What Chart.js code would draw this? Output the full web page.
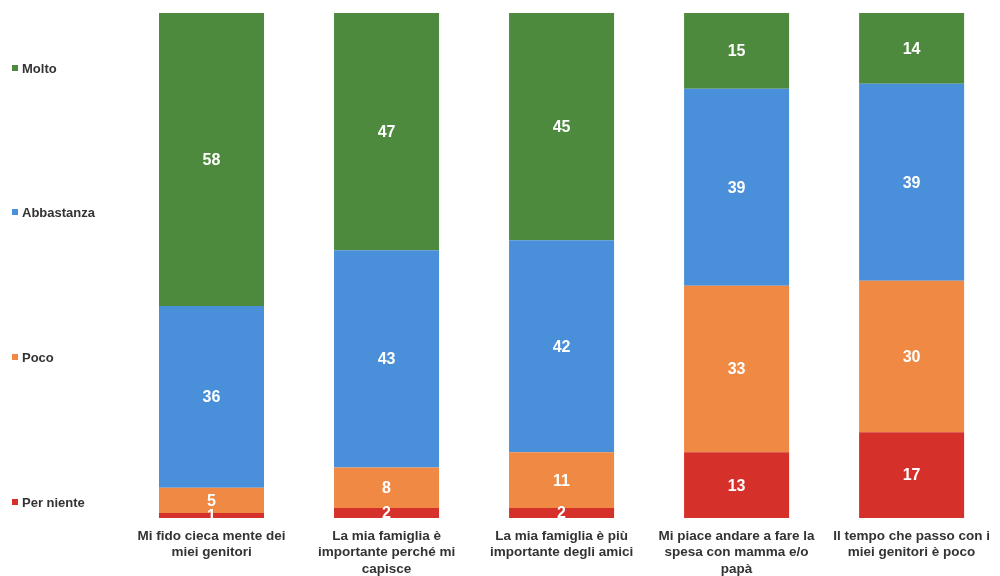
<!DOCTYPE html>
<html><head><meta charset="utf-8">
<script src="https://cdn.jsdelivr.net/npm/chart.js@4"></script>
<style>html,body{margin:0;padding:0;background:#fff;}#wrap{width:1000px;height:576px;position:relative;}</style>
</head><body><div id="wrap"><canvas id="c"></canvas></div>
<script>
const categories = [
  ["Mi fido cieca mente dei", "miei genitori"],
  ["La mia famiglia è", "importante perché mi", "capisce"],
  ["La mia famiglia è più", "importante degli amici"],
  ["Mi piace andare a fare la", "spesa con mamma e/o", "papà"],
  ["Il tempo che passo con i", "miei genitori è poco"]
];
const seriesNames = ["Per niente", "Poco", "Abbastanza", "Molto"];
const perNiente = [1, 2, 2, 13, 17];
const poco = [5, 8, 11, 33, 30];
const abbastanza = [36, 43, 42, 39, 39];
const molto = [58, 47, 45, 15, 14];
const colors = ["#D5302A", "#F08944", "#4A8FDA", "#4E8A3E"];

const legendY = {"Molto": 68, "Abbastanza": 212, "Poco": 357, "Per niente": 502};

const labelPlugin = {
  id: 'labels',
  afterDatasetsDraw(chart) {
    const ctx = chart.ctx;
    ctx.save();
    ctx.font = 'bold 16px "Liberation Sans", Arial, sans-serif';
    ctx.fillStyle = '#ffffff';
    ctx.textAlign = 'center';
    ctx.textBaseline = 'middle';
    chart.data.datasets.forEach((ds, i) => {
      const meta = chart.getDatasetMeta(i);
      meta.data.forEach((bar, j) => {
        const y = (bar.y + bar.base) / 2;
        ctx.fillText(String(ds.data[j]), bar.x, y + 1);
      });
    });
    // legend
    ctx.font = 'bold 13px "Liberation Sans", Arial, sans-serif';
    ctx.textAlign = 'left';
    chart.data.datasets.forEach((ds) => {
      const y = legendY[ds.label];
      ctx.fillStyle = ds.backgroundColor;
      ctx.fillRect(12, y - 3, 6, 6);
      ctx.fillStyle = '#333333';
      ctx.fillText(ds.label, 22, y + 1);
    });
    ctx.restore();
  }
};

new Chart(document.getElementById('c'), {
  type: 'bar',
  data: {
    labels: categories,
    datasets: [
      {label: seriesNames[0], data: perNiente, backgroundColor: colors[0]},
      {label: seriesNames[1], data: poco, backgroundColor: colors[1]},
      {label: seriesNames[2], data: abbastanza, backgroundColor: colors[2]},
      {label: seriesNames[3], data: molto, backgroundColor: colors[3]}
    ]
  },
  options: {
    responsive: true,
    maintainAspectRatio: false,
    animation: false,
    layout: {padding: {left: 124, right: 0, top: 13, bottom: 0}},
    datasets: {bar: {barPercentage: 0.6, categoryPercentage: 1.0, borderWidth: 0}},
    plugins: {legend: {display: false}, tooltip: {enabled: false}},
    scales: {
      x: {
        stacked: true,
        grid: {display: false, drawTicks: false},
        border: {display: false},
        ticks: {
          color: '#333333',
          font: {family: '"Liberation Sans", Arial, sans-serif', size: 13.5, weight: 'bold', lineHeight: 1.22},
          padding: 10,
          maxRotation: 0,
          autoSkip: false
        },
        afterFit(s) { s.height = 58; }
      },
      y: {
        stacked: true,
        display: false,
        min: 0,
        max: 100
      }
    }
  },
  plugins: [labelPlugin]
});
</script>
</body></html>
